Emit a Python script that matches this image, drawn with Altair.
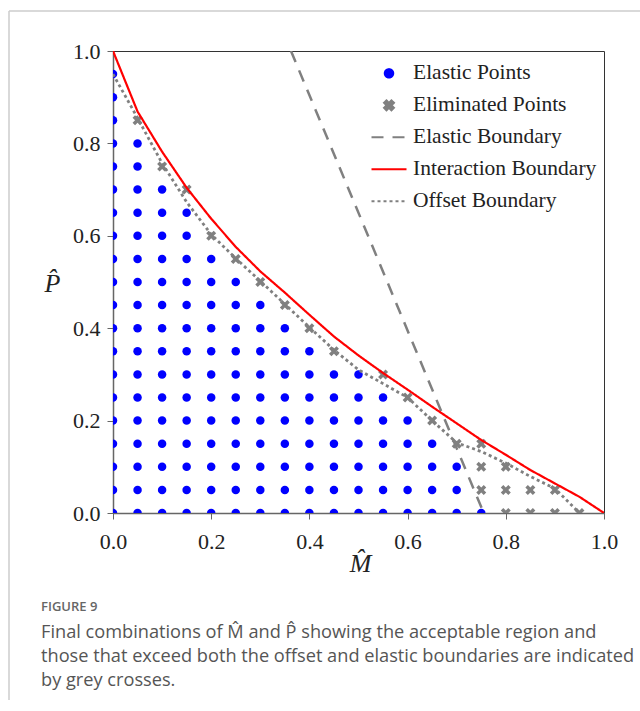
import altair as alt
import pandas as pd

# ---- series definitions -------------------------------------------------
SERIES = ["Elastic Points", "Eliminated Points", "Elastic Boundary",
          "Interaction Boundary", "Offset Boundary"]
COLORS = ["#0000ff", "#808080", "#808080", "#ff0000", "#808080"]
X_MARK = ("M-1,-0.5L-0.5,-1L0,-0.5L0.5,-1L1,-0.5L0.5,0L1,0.5L0.5,1"
          "L0,0.5L-0.5,1L-1,0.5L-0.5,0Z")
SHAPES = ["circle", X_MARK, "stroke", "stroke", "stroke"]
SIZES = [72, 100, 1225, 1225, 1225]
DASHES = [[1, 0], [1, 0], [12, 9], [1, 0], [3, 3]]

# ---- grid of (M, P) combinations ---------------------------------------
grid_m = [0.00, 0.05, 0.10, 0.15, 0.20, 0.25, 0.30, 0.35, 0.40, 0.45,
          0.50, 0.55, 0.60, 0.65, 0.70, 0.75, 0.80, 0.85, 0.90, 0.95]
p_rows = [0.95, 0.90, 0.85, 0.80, 0.75, 0.70, 0.65, 0.60, 0.55, 0.50,
          0.45, 0.40, 0.35, 0.30, 0.25, 0.20, 0.15, 0.10, 0.05, 0.00]
# largest M kept as an elastic point in each P row
elastic_max_m = [0.00, 0.00, 0.00, 0.05, 0.05, 0.10, 0.15, 0.15, 0.20, 0.25,
                 0.30, 0.35, 0.40, 0.50, 0.55, 0.60, 0.65, 0.70, 0.70, 0.75]
# M values eliminated in each P row
eliminated_m = [[], [], [0.05], [], [0.10], [0.15], [], [0.20], [0.25], [0.30],
                [0.35], [0.40], [0.45], [0.55], [0.60], [0.65], [0.70, 0.75],
                [0.75, 0.80], [0.75, 0.80, 0.85, 0.90], [0.80, 0.85, 0.90, 0.95]]

# ---- boundaries ----------------------------------------------------------
elastic_m = [0.3625, 0.755]
elastic_p = [1.0, 0.0]

interaction_m = [0.00, 0.05, 0.10, 0.15, 0.20, 0.25, 0.30, 0.35, 0.40, 0.45, 0.50,
                 0.55, 0.60, 0.65, 0.70, 0.75, 0.80, 0.85, 0.90, 0.95, 1.00]
interaction_p = [1.000, 0.869, 0.782, 0.704, 0.637, 0.576, 0.523, 0.477, 0.429, 0.382, 0.341,
                 0.303, 0.267, 0.230, 0.194, 0.158, 0.126, 0.093, 0.064, 0.035, 0.000]

offset_m = [0.00, 0.05, 0.10, 0.15, 0.20, 0.25, 0.30, 0.35, 0.40, 0.45,
            0.50, 0.55, 0.60, 0.65, 0.70, 0.75, 0.80, 0.85, 0.90, 0.95]
offset_p = [0.950, 0.855, 0.757, 0.673, 0.603, 0.551, 0.502, 0.452, 0.402, 0.353,
            0.310, 0.280, 0.250, 0.200, 0.152, 0.133, 0.108, 0.079, 0.053, 0.000]

# ---- tables --------------------------------------------------------------
rows = []
for p, mmax, elim in zip(p_rows, elastic_max_m, eliminated_m):
    for m in grid_m:
        if m <= mmax + 1e-9:
            rows.append({"m": m, "p": p, "series": "Elastic Points"})
    for m in elim:
        rows.append({"m": m, "p": p, "series": "Eliminated Points"})
points_df = pd.DataFrame(rows)

elastic_df = pd.DataFrame({"m": elastic_m, "p": elastic_p, "series": "Elastic Boundary"})
interaction_df = pd.DataFrame({"m": interaction_m, "p": interaction_p,
                               "series": "Interaction Boundary"})
offset_df = pd.DataFrame({"m": offset_m, "p": offset_p, "series": "Offset Boundary"})

# ---- shared encodings ----------------------------------------------------
SERIF = "Liberation Serif"
INK = "#222222"
ticks = [0.0, 0.2, 0.4, 0.6, 0.8, 1.0]

x_axis = alt.Axis(values=ticks, format=".1f", title="M\u0302", grid=False,
                  labelFlush=False, domainColor="#666666", domainWidth=1.5,
                  tickColor="#666666", tickSize=6, tickWidth=1,
                  labelFont=SERIF, labelFontSize=22, labelColor=INK, labelPadding=12,
                  titleFont=SERIF, titleFontSize=26, titleFontStyle="italic",
                  titleFontWeight="normal", titleColor=INK,
                  titleX=247, titleY=58, titleBaseline="alphabetic")
y_axis = alt.Axis(values=ticks, format=".1f", title="P\u0302", grid=False,
                  labelFlush=False, domainColor="#666666", domainWidth=1.5,
                  tickColor="#666666", tickSize=6, tickWidth=1,
                  labelFont=SERIF, labelFontSize=22, labelColor=INK, labelPadding=7,
                  titleFont=SERIF, titleFontSize=26, titleFontStyle="italic",
                  titleFontWeight="normal", titleColor=INK, titleAngle=0,
                  titleX=-61, titleY=232, titleAlign="center", titleBaseline="middle")

x_enc = alt.X("m:Q", scale=alt.Scale(domain=[0, 1], nice=False), axis=x_axis)
y_enc = alt.Y("p:Q", scale=alt.Scale(domain=[0, 1], nice=False), axis=y_axis)

legend = alt.Legend(orient="none", legendX=257.5, legendY=6.5, title=None, padding=0,
                    labelFont=SERIF, labelFontSize=21.5, labelColor=INK, labelOffset=5.5,
                    labelLimit=400, clipHeight=31.7, rowPadding=0, symbolStrokeWidth=2)

color_enc = alt.Color("series:N", scale=alt.Scale(domain=SERIES, range=COLORS), legend=legend)

# ---- layers ----------------------------------------------------------------
points = alt.Chart(points_df).mark_point(filled=True, opacity=1, clip=True).encode(
    x=x_enc, y=y_enc, color=color_enc,
    shape=alt.Shape("series:N", scale=alt.Scale(domain=SERIES, range=SHAPES), legend=legend),
    size=alt.Size("series:N", scale=alt.Scale(type="ordinal", domain=SERIES, range=SIZES),
                  legend=legend),
)


def boundary(df, width):
    return alt.Chart(df).mark_line(strokeWidth=width, clip=True).encode(
        x=x_enc, y=y_enc, color=color_enc,
        strokeDash=alt.StrokeDash("series:N", scale=alt.Scale(domain=SERIES, range=DASHES),
                                  legend=legend),
    )


elastic_line = boundary(elastic_df, 2.5)
interaction_line = boundary(interaction_df, 2.2)
offset_line = boundary(offset_df, 2.8)

# ---- page frame and caption -------------------------------------------------
one_row = alt.Data(values=[{"k": 0}])
frame_top = alt.Chart(one_row).mark_rule(color="#cccccc", strokeWidth=1.5).encode(
    x=alt.value(-104), x2=alt.value(527), y=alt.value(-40))
frame_left = alt.Chart(one_row).mark_rule(color="#cccccc", strokeWidth=1.5).encode(
    x=alt.value(-104), y=alt.value(-40), y2=alt.value(649))

CAP_FONT = "Open Sans"
fig_label = alt.Chart(one_row).mark_text(
    font=CAP_FONT, fontSize=13, fontWeight=600, color="#666666",
    align="left", baseline="middle").encode(
    x=alt.value(-72), y=alt.value(556), text=alt.value("FIGURE 9"))

caption_lines = [
    "Final combinations of M\u0302 and P\u0302 showing the acceptable region and",
    "those that exceed both the offset and elastic boundaries are indicated",
    "by grey crosses.",
]
caption_layers = []
for i, line in enumerate(caption_lines):
    caption_layers.append(
        alt.Chart(one_row).mark_text(
            font=CAP_FONT, fontSize=18.2, color="#555555",
            align="left", baseline="middle").encode(
            x=alt.value(-72), y=alt.value(582 + 24 * i), text=alt.value(line)))

chart = alt.layer(
    points, elastic_line, interaction_line, offset_line,
    frame_top, frame_left, fig_label, *caption_layers
).properties(
    width=491, height=462,
    padding={"left": 113, "top": 51, "right": 36, "bottom": 198},
    autosize=alt.AutoSizeParams(type="none"),
    background="white",
).configure_view(stroke="#333333", strokeWidth=1)

chart.save("out.html", embed_options={"renderer": "svg", "actions": False})
